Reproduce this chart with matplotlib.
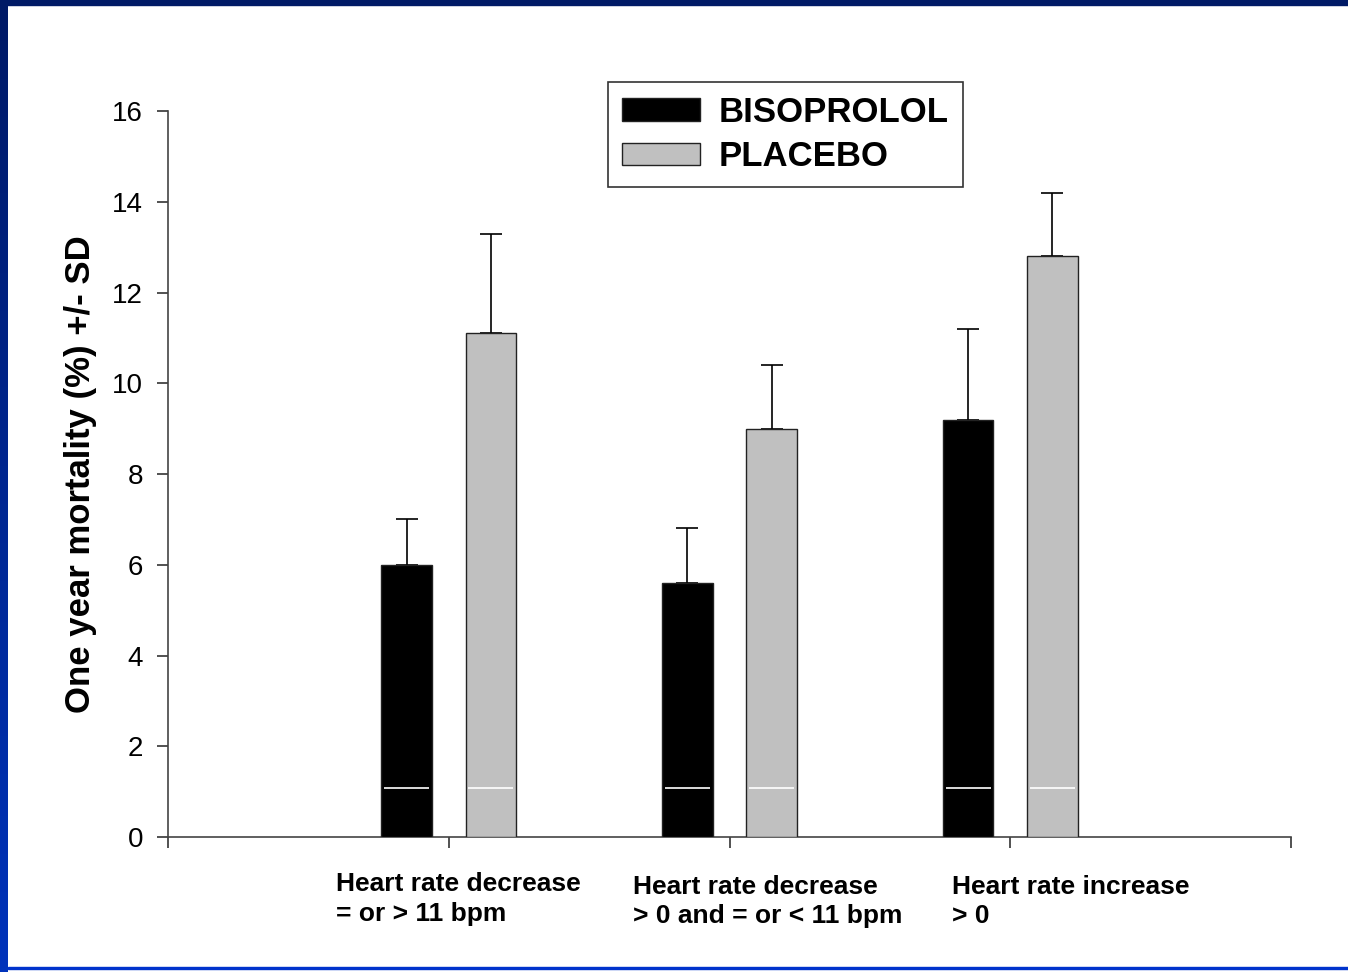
import matplotlib
matplotlib.use('Agg')
import matplotlib.pyplot as plt
import numpy as np
from matplotlib.patches import Patch, Rectangle

plt.rcParams['font.family'] = ['Liberation Sans', 'DejaVu Sans']

groups = ["Heart rate decrease\n= or > 11 bpm",
          "Heart rate decrease\n> 0 and = or < 11 bpm",
          "Heart rate increase\n> 0"]
bisoprolol = [6.0, 5.6, 9.2]
bisoprolol_sd = [1.0, 1.2, 2.0]
placebo = [11.1, 9.0, 12.8]
placebo_sd = [2.2, 1.4, 1.4]
marker_level = 1.08
yticks = [0, 2, 4, 6, 8, 10, 12, 14, 16]

W, H = 1348, 972
fig = plt.figure(figsize=(W / 100, H / 100), dpi=100)
fig.patch.set_facecolor('white')

# slide frame
grad = fig.add_axes([0, 0, 8 / W, 1])
grad.imshow(np.linspace(0, 1, 256).reshape(-1, 1), aspect='auto',
            cmap=matplotlib.colors.LinearSegmentedColormap.from_list('b', ['#001a66', '#0033bb']),
            extent=[0, 1, 0, 1])
grad.axis('off')
fig.patches.append(Rectangle((0, 1 - 5 / H), 1, 5 / H, transform=fig.transFigure,
                             color='#001a66', zorder=5))
fig.patches.append(Rectangle((8 / W, 3 / H), 1, 2 / H, transform=fig.transFigure,
                             color='#0033cc', zorder=5))

ax = fig.add_axes([168 / W, 135 / H, (1291 - 168) / W, (837 - 111) / H])
x = np.arange(1, len(groups) + 1)
off = 0.15
w = 0.18

zeros = np.zeros(len(groups))
ax.errorbar(x - off, bisoprolol, yerr=[zeros, bisoprolol_sd], fmt='none',
            ecolor='black', elinewidth=1.2, capsize=8, capthick=1.2, zorder=2)
ax.errorbar(x + off, placebo, yerr=[zeros, placebo_sd], fmt='none',
            ecolor='black', elinewidth=1.2, capsize=8, capthick=1.2, zorder=2)
ax.bar(x - off, bisoprolol, w, color='black', edgecolor='#222222', linewidth=1, zorder=3)
ax.bar(x + off, placebo, w, color='#c0c0c0', edgecolor='#222222', linewidth=1, zorder=3)
for xc in np.concatenate([x - off, x + off]):
    ax.hlines(marker_level, xc - w / 2 + 0.01, xc + w / 2 - 0.01, colors='white',
              linewidth=1.2, zorder=4)

ax.set_xlim(0, 4)
ax.set_ylim(0, 16)
ax.set_yticks(yticks)
ax.set_yticklabels([str(t) for t in yticks], fontsize=20)
ax.set_xticks([0, 1, 2, 3, 4])
ax.set_xticklabels([])
ax.tick_params(axis='both', direction='out', length=8, width=1.2, color='#333333')
ax.tick_params(axis='y', pad=10)
for s in ['top', 'right']:
    ax.spines[s].set_visible(False)
for s in ['left', 'bottom']:
    ax.spines[s].set_linewidth(1.2)
    ax.spines[s].set_color('#444444')

ax.set_ylabel('One year mortality (%) +/- SD', fontsize=25, fontweight='bold', labelpad=11)

label_x = [0.598, 1.656, 2.793]
label_y = [-0.048, -0.052, -0.052]
for lx, ly, g in zip(label_x, label_y, groups):
    ax.text(lx, ly, g, transform=ax.get_xaxis_transform(), ha='left', va='top',
            fontsize=19, fontweight='bold', linespacing=1.3)

handles = [Patch(facecolor='black', edgecolor='#222222', label='BISOPROLOL'),
           Patch(facecolor='#c0c0c0', edgecolor='#222222', label='PLACEBO')]
leg = fig.legend(handles=handles, loc='upper left', bbox_to_anchor=(608 / W, 1 - 82 / H),
                 bbox_transform=fig.transFigure, fancybox=False, frameon=True,
                 edgecolor='black', borderaxespad=0, handlelength=2.25, handleheight=0.63,
                 handletextpad=0.55, labelspacing=0.33, borderpad=0.4,
                 prop={'size': 25, 'weight': 'bold'})
leg.get_frame().set_linewidth(1.2)

fig.savefig('out.png', dpi=100)
